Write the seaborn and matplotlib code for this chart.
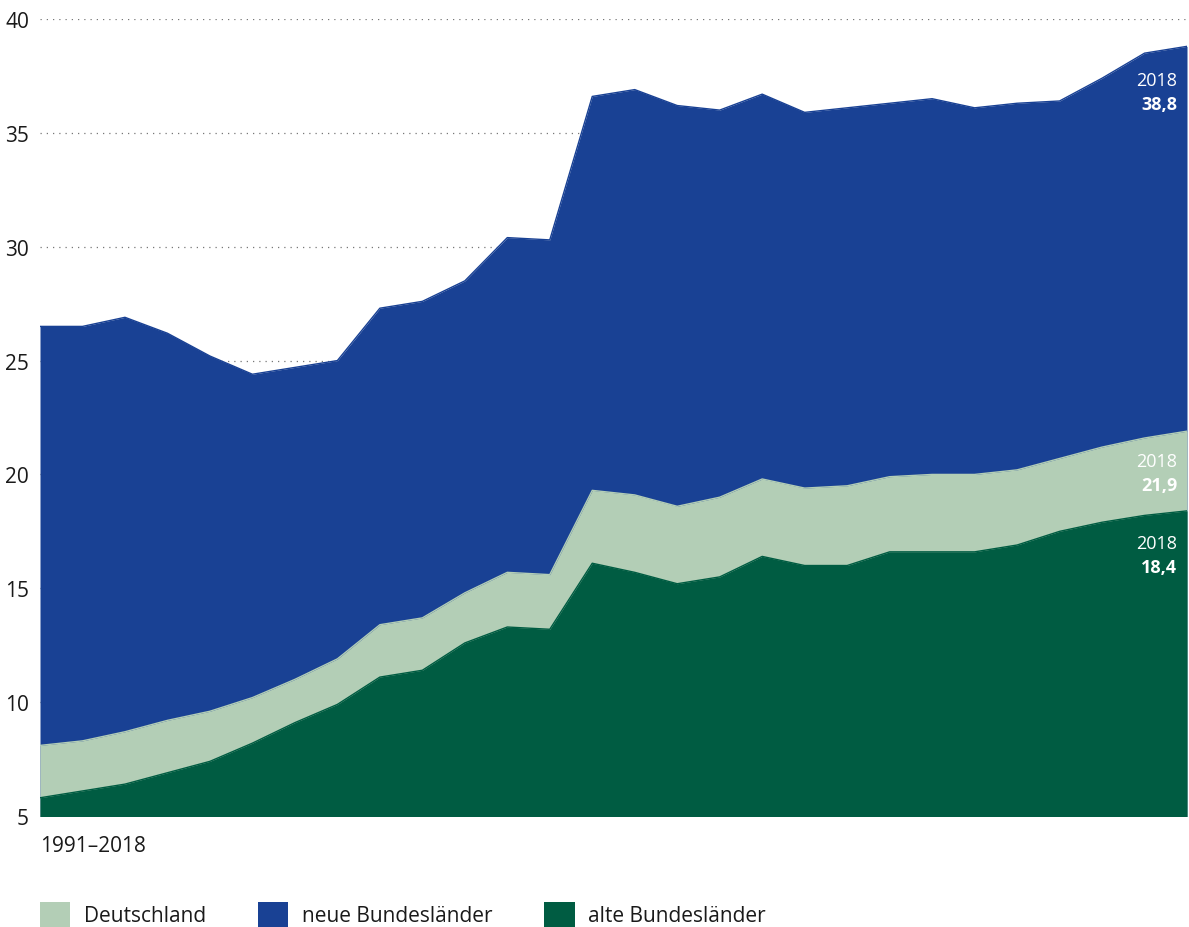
import numpy as np
import pandas as pd
import matplotlib
matplotlib.use("Agg")
import matplotlib.pyplot as plt
from matplotlib.patches import Patch
import seaborn as sns

# Données (1991-2018)
years = list(range(1991, 2019))
neue = [26.5, 26.5, 26.9, 26.2, 25.2, 24.4, 24.7, 25.0, 27.3, 27.6,
        28.5, 30.4, 30.3, 36.6, 36.9, 36.2, 36.0, 36.7, 35.9, 36.1,
        36.3, 36.5, 36.1, 36.3, 36.4, 37.4, 38.5, 38.8]
deutschland = [8.1, 8.3, 8.7, 9.2, 9.6, 10.2, 11.0, 11.9, 13.4, 13.7,
               14.8, 15.7, 15.6, 19.3, 19.1, 18.6, 19.0, 19.8, 19.4, 19.5,
               19.9, 20.0, 20.0, 20.2, 20.7, 21.2, 21.6, 21.9]
alte = [5.8, 6.1, 6.4, 6.9, 7.4, 8.2, 9.1, 9.9, 11.1, 11.4,
        12.6, 13.3, 13.2, 16.1, 15.7, 15.2, 15.5, 16.4, 16.0, 16.0,
        16.6, 16.6, 16.6, 16.9, 17.5, 17.9, 18.2, 18.4]
labels = ["neue Bundesländer", "Deutschland", "alte Bundesländer"]
legend_order = ["Deutschland", "neue Bundesländer", "alte Bundesländer"]
yticks = [5, 10, 15, 20, 25, 30, 35, 40]

df = pd.DataFrame({"Jahr": years, "neue Bundesländer": neue,
                   "Deutschland": deutschland, "alte Bundesländer": alte})

colors = {"neue Bundesländer": "#194194",
          "Deutschland": "#b3ceb6",
          "alte Bundesländer": "#005c42"}

sns.set_theme(style="white")
plt.rcParams["font.family"] = ["Open Sans", "DejaVu Sans"]

fig = plt.figure(figsize=(11.89, 9.28), dpi=100)
ax = fig.add_axes([40 / 1189, 111 / 928, 1147 / 1189, 797 / 928])

# Surfaces superposées (pas empilées)
for name in labels:
    ax.fill_between(df["Jahr"], 0, df[name], color=colors[name], lw=0, zorder=2)
    sns.lineplot(data=df, x="Jahr", y=name, color=colors[name], lw=1, ax=ax, zorder=2)

ax.set_xlim(1991, 2018)
ax.set_ylim(5, 40)
ax.set_yticks(yticks)
ax.set_yticklabels([str(t) for t in yticks])
ax.set_xticks([])
ax.set_xlabel("")
ax.set_ylabel("")
for s in ax.spines.values():
    s.set_visible(False)
ax.tick_params(axis="y", length=0, pad=8, labelsize=15, labelcolor="#1a1a1a")
ax.yaxis.grid(True, linestyle=(0, (1, 4)), color="#777777", lw=0.9, zorder=0)
ax.set_axisbelow(True)

# Étiquettes de fin (2018)
for name, dy in [("neue Bundesländer", -18), ("Deutschland", -15), ("alte Bundesländer", -17)]:
    v = df[name].iloc[-1]
    ax.annotate("2018", xy=(2018, v), xytext=(-7, dy), textcoords="offset points",
                ha="right", va="top", color="white", fontsize=13, zorder=5)
    ax.annotate(f"{v:.1f}".replace(".", ","), xy=(2018, v), xytext=(-7, dy - 17),
                textcoords="offset points", ha="right", va="top", color="white",
                fontsize=13, fontweight="bold", zorder=5)

fig.text(40 / 1189, 1 - 847 / 928, "1991–2018", ha="left", va="center",
         fontsize=15, color="#1a1a1a")

handles = [Patch(facecolor=colors[n], edgecolor="none", label=n) for n in legend_order]
fig.legend(handles=handles, loc="lower left", bbox_to_anchor=(40 / 1189, 0.0),
           ncol=3, frameon=False, fontsize=15, borderpad=0, borderaxespad=0,
           handlelength=1.45, handleheight=1.5, handletextpad=0.65,
           columnspacing=2.5, labelcolor="#1a1a1a")

fig.savefig("out.png", dpi=100)
